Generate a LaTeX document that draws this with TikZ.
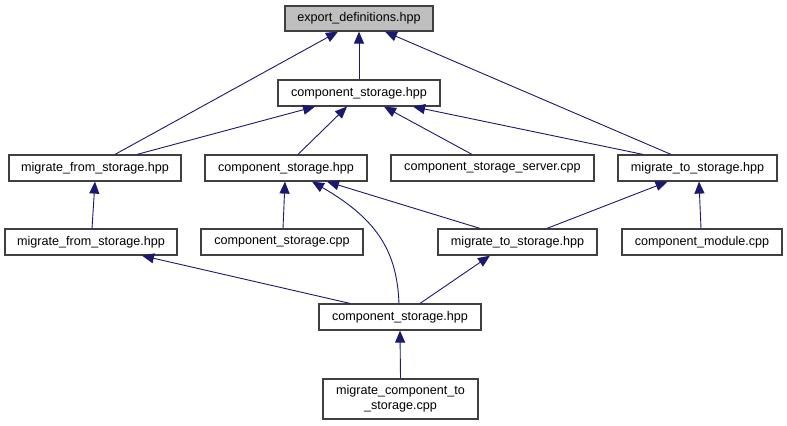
\documentclass[tikz,border=0pt]{standalone}
\usepackage{fontspec}
\setmainfont{Liberation Sans}
\usetikzlibrary{arrows.meta}
\definecolor{edgecol}{RGB}{25,25,112}
\definecolor{boxcol}{RGB}{64,64,64}
\definecolor{hilite}{RGB}{191,191,191}
\begin{document}
\begin{tikzpicture}[x=1bp,y=-1bp,
  file/.style={draw=boxcol,line width=1.2bp,fill=white,inner sep=0pt,minimum height=26bp,
    font=\fontsize{12.6bp}{14.7bp}\selectfont,align=center},
  dep/.style={draw=edgecol,line width=0.9bp,-{Triangle[length=12bp,width=10bp]},shorten >=0pt}]
\useasboundingbox[fill=white] (0,0) rectangle (787,425);
% nodes
\node[file,fill=hilite,minimum width=148bp,minimum height=25bp] (exp) at (359,18.5) {export\_definitions.hpp};
\node[file,minimum width=162bp] (cs1) at (359,93) {component\_storage.hpp};
\node[file,minimum width=172bp] (mfs1) at (95,168) {migrate\_from\_storage.hpp};
\node[file,minimum width=162bp] (cs2) at (286,168) {component\_storage.hpp};
\node[file,minimum width=203bp] (srv) at (492.5,168) {component\_storage\_server.cpp};
\node[file,minimum width=159bp] (mts1) at (697.5,168) {migrate\_to\_storage.hpp};
\node[file,minimum width=172bp] (mfs2) at (91,242) {migrate\_from\_storage.hpp};
\node[file,minimum width=162bp] (cpp) at (282,242) {component\_storage.cpp};
\node[file,minimum width=159bp] (mts2) at (517.5,242) {migrate\_to\_storage.hpp};
\node[file,minimum width=160bp] (mod) at (702,242) {component\_module.cpp};
\node[file,minimum width=162bp] (cs3) at (400,317) {component\_storage.hpp};
\node[file,minimum width=155bp,minimum height=40bp] (mct) at (400.5,399) {migrate\_component\_to\\\_storage.cpp};
% edges
\draw[dep] (cs1.north) -- (exp.south);
\draw[dep] ([xshift=20bp]mfs1.north) -- ([xshift=-21bp]exp.south);
\draw[dep] ([xshift=-26.5bp]mts1.north) -- ([xshift=26bp]exp.south);
\draw[dep] ([xshift=42bp]mfs1.north) -- ([xshift=-44bp]cs1.south);
\draw[dep] ([xshift=12bp]cs2.north) -- ([xshift=-12bp]cs1.south);
\draw[dep] ([xshift=-20.5bp]srv.north) -- ([xshift=25bp]cs1.south);
\draw[dep] ([xshift=-54.5bp]mts1.north) -- ([xshift=54bp]cs1.south);
\draw[dep] ([xshift=1bp]mfs2.north) -- (mfs1.south);
\draw[dep] ([xshift=1bp]cpp.north) -- ([xshift=-1bp]cs2.south);
\draw[dep] ([xshift=-37.5bp]mts2.north) -- ([xshift=41bp]cs2.south);
\draw[dep] ([xshift=-1bp]cs3.north) .. controls +(-2,-49) and +(68,39) .. ([xshift=26bp]cs2.south);
\draw[dep] ([xshift=29.5bp]mts2.north) -- ([xshift=-30bp]mts1.south);
\draw[dep] ([xshift=-1bp]mod.north) -- ([xshift=1.5bp]mts1.south);
\draw[dep] ([xshift=-50bp]cs3.north) -- ([xshift=51bp]mfs2.south);
\draw[dep] ([xshift=20bp]cs3.north) -- ([xshift=-27.5bp]mts2.south);
\draw[dep] (mct.north) -- (cs3.south);
\end{tikzpicture}
\end{document}
